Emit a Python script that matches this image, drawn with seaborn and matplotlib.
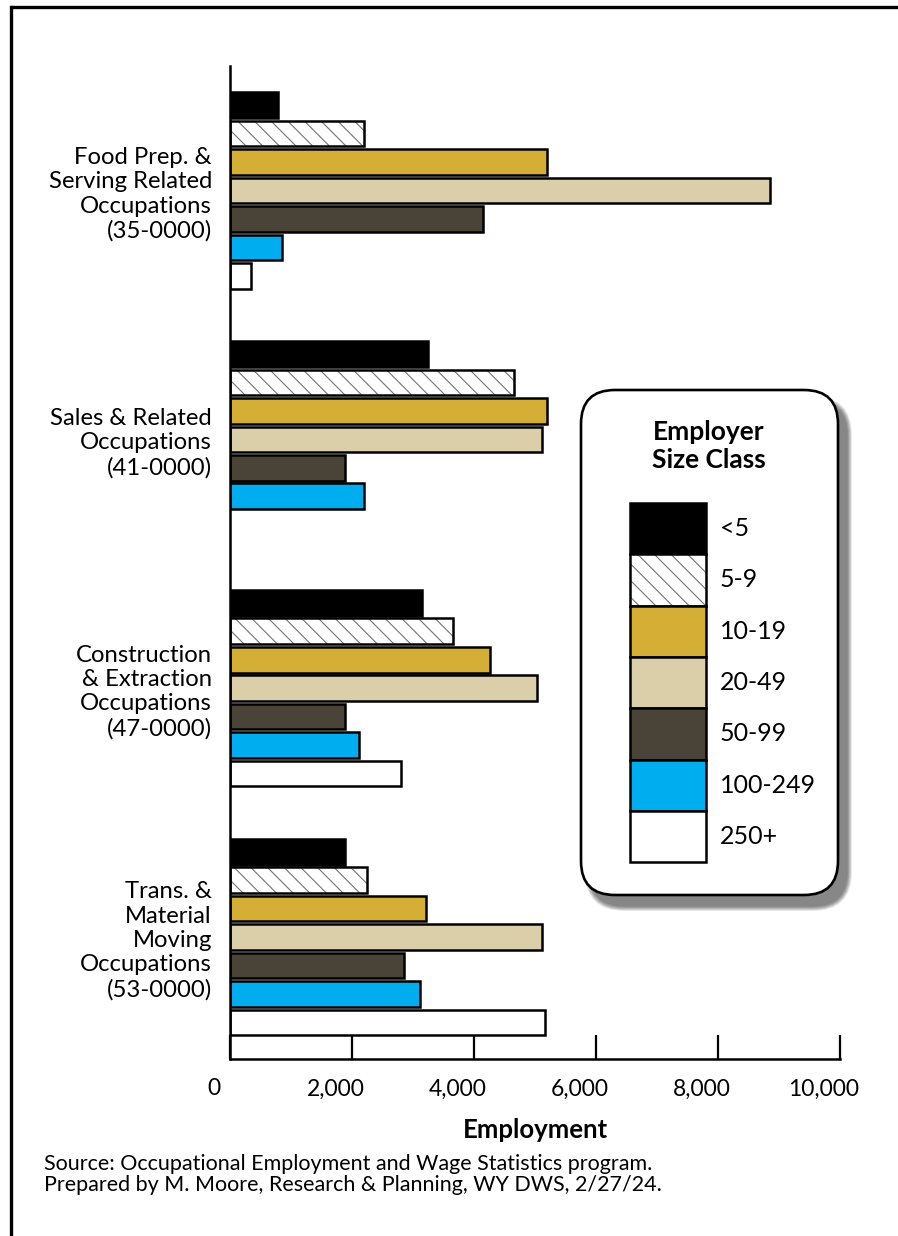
import numpy as np
import pandas as pd
import matplotlib
matplotlib.use("Agg")
import matplotlib.pyplot as plt
import matplotlib.patches as mpatches
from matplotlib.patches import FancyBboxPatch
from matplotlib.lines import Line2D
from matplotlib.transforms import ScaledTranslation, IdentityTransform
import seaborn as sns

# ---------------- data ----------------
occupations = [
    "Food Prep. &\nServing Related\nOccupations\n(35-0000)",
    "Sales & Related\nOccupations\n(41-0000)",
    "Construction\n& Extraction\nOccupations\n(47-0000)",
    "Trans. &\nMaterial\nMoving\nOccupations\n(53-0000)",
]
size_classes = ["<5", "5-9", "10-19", "20-49", "50-99", "100-249", "250+"]
emp_lt5 = [790, 3240, 3140, 1880]
emp_5_9 = [2190, 4650, 3650, 2240]
emp_10_19 = [5190, 5190, 4260, 3210]
emp_20_49 = [8850, 5120, 5030, 5110]
emp_50_99 = [4140, 1880, 1880, 2850]
emp_100_249 = [860, 2190, 2120, 3110]
emp_250p = [350, np.nan, 2800, 5160]
size_colors = ["#000000", "#FFFFFF", "#D4AE35", "#DBCFA9", "#4A4337", "#00AEEF", "#FFFFFF"]
x_ticks = [0, 2000, 4000, 6000, 8000, 10000]
x_tick_labels = ["0", "2,000", "4,000", "6,000", "8,000", "10,000"]

series = [emp_lt5, emp_5_9, emp_10_19, emp_20_49, emp_50_99, emp_100_249, emp_250p]
rows = []
for sc, vals in zip(size_classes, series):
    for occ, v in zip(occupations, vals):
        rows.append({"occ": occ, "size": sc, "emp": v})
df = pd.DataFrame(rows)

# ---------------- style ----------------
sns.set_theme(style="white")
plt.rcParams["font.family"] = ["Lato", "DejaVu Sans"]
plt.rcParams["hatch.linewidth"] = 0.8

W, H = 898, 1236
DPI = 100
fig = plt.figure(figsize=(W / DPI, H / DPI), dpi=DPI)
fig.patch.set_facecolor("white")
ax_top, ax_bot, ax_left, ax_right = 66, 1059, 230, 840
ax = fig.add_axes([ax_left / W, 1 - ax_bot / H, (ax_right - ax_left) / W, (ax_bot - ax_top) / H])

sns.barplot(data=df, y="occ", x="emp", hue="size", order=occupations,
            hue_order=size_classes, palette=size_colors, saturation=1, orient="h",
            edgecolor="black", linewidth=1.8, gap=0.1, width=0.8,
            legend=False, ax=ax)

hatch_gray = (0.45, 0.45, 0.45, 1.0)
for p in ax.containers[1]:
    p.set_hatch("\\\\")
    p._hatch_color = hatch_gray

ax.set_xlim(0, 10000)
ax.set_ylim(3.49, -0.5)
ax.set_xticks(x_ticks)
ax.set_xticklabels(x_tick_labels)
ax.set_xlabel("Employment", fontsize=18.5, fontweight="bold", labelpad=13, color="black")
ax.set_ylabel("")

for s in ["top", "right"]:
    ax.spines[s].set_visible(False)
for s in ["left", "bottom"]:
    ax.spines[s].set_color("black")
    ax.spines[s].set_linewidth(1.8)

ax.tick_params(axis="x", bottom=True, direction="in", length=17, width=1.6, color="black",
               labelsize=16.5, pad=14, labelcolor="black")
ax.tick_params(axis="y", left=False, length=0, labelsize=17.2, pad=13, labelcolor="black")
for lab in ax.get_yticklabels():
    lab.set_linespacing(1.2)
    lab.set_multialignment("right")
for lab in ax.get_xticklabels():
    lab.set_transform(lab.get_transform() + ScaledTranslation(-16 / DPI, 0, fig.dpi_scale_trans))

# ---------------- legend box (rounded, shadowed) ----------------
bx0, bx1, by0, by1 = 581, 838, 390, 895   # pixel coords from top-left
bw, bh = bx1 - bx0, by1 - by0
rs = 34
for i in range(10):
    grow = 10 - i
    sh = FancyBboxPatch((bx0 + 9 - grow / 2, H - by1 - 11 - grow / 2), bw + grow, bh + grow,
                        boxstyle=f"round,pad=0,rounding_size={rs + grow / 2}",
                        transform=IdentityTransform(), facecolor="black",
                        edgecolor="none", alpha=0.06, zorder=1)
    fig.add_artist(sh)
box = FancyBboxPatch((bx0, H - by1), bw, bh, boxstyle=f"round,pad=0,rounding_size={rs}",
                     transform=IdentityTransform(), facecolor="white", edgecolor="black",
                     linewidth=1.9, zorder=2)
fig.add_artist(box)
fig.text(709 / W, 1 - 446 / H, "Employer\nSize Class", ha="center", va="center",
         fontsize=19, fontweight="bold", linespacing=1.25, color="black", zorder=3)

handles = []
for sc, c in zip(size_classes, size_colors):
    h = mpatches.Patch(facecolor=c, edgecolor="black", linewidth=1.8, label=sc)
    if sc == "5-9":
        h.set_hatch("\\\\")
        h._hatch_color = hatch_gray
    handles.append(h)

leg_fs = 18
fs_px = leg_fs * DPI / 72
patch_h = 51.3
hh = (patch_h / fs_px - 0.245) / 0.65
leg = fig.legend(handles=handles, loc="upper left",
                 bbox_to_anchor=(630 / W, 1 - 503 / H), bbox_transform=fig.transFigure,
                 fontsize=leg_fs, handlelength=76 / fs_px, handleheight=hh,
                 labelspacing=0.0, handletextpad=0.56, borderpad=0, borderaxespad=0,
                 frameon=False)
leg.set_zorder(4)
for t in leg.get_texts():
    t.set_color("black")

# ---------------- annotations ----------------
fig.text(44 / W, 1 - 1154 / H,
         "Source: Occupational Employment and Wage Statistics program.\n"
         "Prepared by M. Moore, Research & Planning, WY DWS, 2/27/24.",
         ha="left", va="top", fontsize=15.5, linespacing=1.08, color="black")

# border lines (top and left)
fig.add_artist(Line2D([11 / W, 1.0], [1 - 7 / H, 1 - 7 / H], transform=fig.transFigure,
                      color="black", linewidth=2.4, solid_capstyle="butt"))
fig.add_artist(Line2D([11 / W, 11 / W], [1 - 7 / H, 0.0], transform=fig.transFigure,
                      color="black", linewidth=2.4, solid_capstyle="projecting"))

fig.savefig("out.png", dpi=DPI, facecolor="white")
